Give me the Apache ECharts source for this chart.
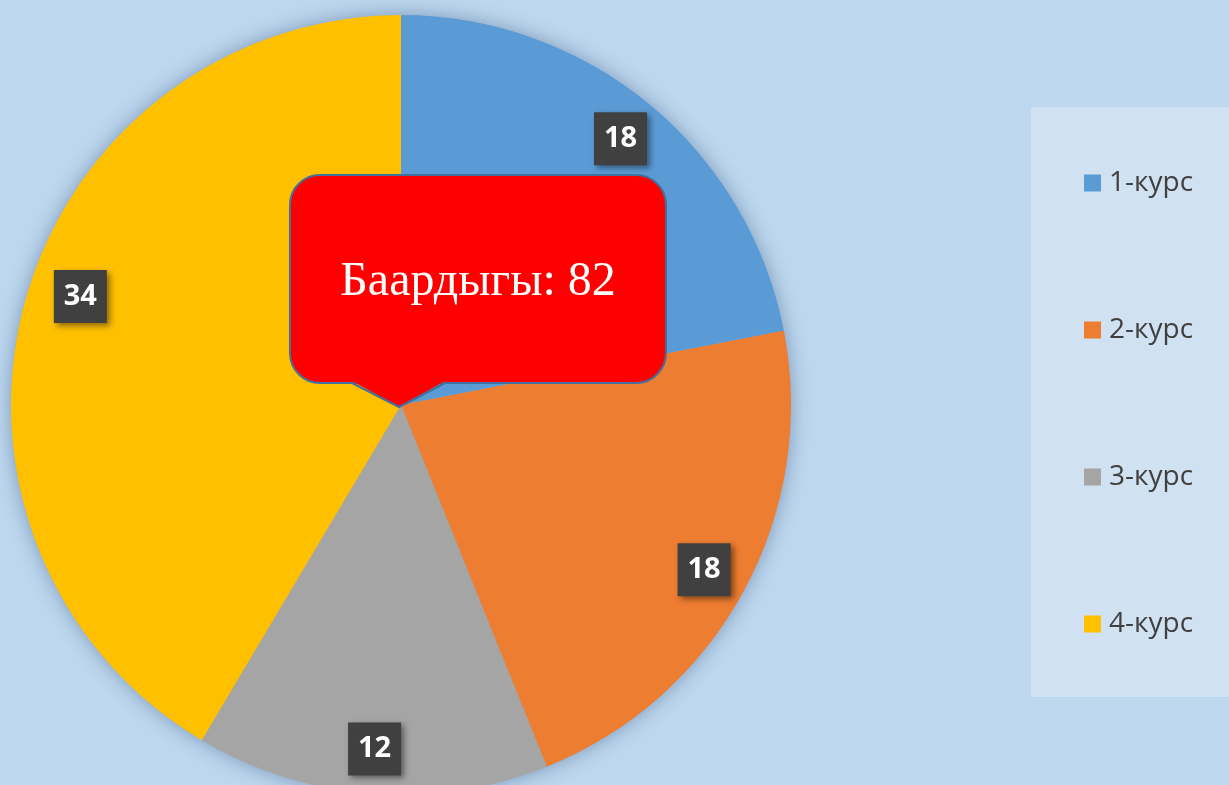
<!DOCTYPE html>
<html><head><meta charset="utf-8">
<script src="https://cdn.jsdelivr.net/npm/echarts@6/dist/echarts.min.js"></script>
<style>html,body{margin:0;padding:0;background:#BDD7EE;}#c{width:1229px;height:785px;}</style>
</head><body><div id="c"></div>
<script>
const categories = ['1-курс', '2-курс', '3-курс', '4-курс'];
const values = [18, 18, 12, 34];
const colors = ['#5B9BD5', '#ED7D31', '#A5A5A5', '#FFC000'];
const totalLabel = 'Баардыгы: ' + values.reduce((a, b) => a + b, 0);

const data = categories.map((c, i) => ({ name: c, value: values[i], itemStyle: { color: colors[i] } }));

const chart = echarts.init(document.getElementById('c'), null, { renderer: 'canvas' });
chart.setOption({
  backgroundColor: '#BDD7EE',
  animation: false,
  legend: {
    orient: 'vertical',
    left: 1031, top: 107,
    padding: [61, 60, 58, 53],
    backgroundColor: '#D0E1F1',
    itemGap: 117,
    itemWidth: 17, itemHeight: 17,
    icon: 'rect',
    data: categories,
    textStyle: { fontFamily: 'Open Sans', fontSize: 28, lineHeight: 30, color: '#404040', padding: [0, 0, 0, 3] }
  },
  series: [
    {
      type: 'pie',
      center: [401, 405],
      radius: 389,
      silent: true,
      legendHoverLink: false,
      data: [{ name: '_shadow', value: 1, itemStyle: { color: '#A5A5A5' } }],
      label: { show: false },
      labelLine: { show: false },
      itemStyle: { shadowBlur: 20, shadowColor: 'rgba(30,60,110,0.45)' },
      z: 1
    },
    {
      type: 'pie',
      center: [401, 405],
      radius: 390,
      startAngle: 90,
      clockwise: true,
      silent: true,
      data: data,
      label: { show: false },
      labelLine: { show: false },
      z: 2
    },
    {
      type: 'pie',
      center: [401, 405],
      radius: [300, 384],
      startAngle: 90,
      clockwise: true,
      silent: true,
      legendHoverLink: false,
      data: data.map(d => ({ name: d.name, value: d.value, itemStyle: { color: 'rgba(0,0,0,0)' } })),
      label: {
        show: true,
        position: 'inside',
        formatter: '{c}',
        fontFamily: 'Open Sans',
        fontWeight: 'bold',
        fontSize: 29,
        color: '#FFFFFF',
        width: 53,
        height: 53,
        lineHeight: 53,
        align: 'center',
        verticalAlign: 'middle',
        backgroundColor: '#404040',
        padding: 0,
        shadowBlur: 6,
        shadowOffsetX: 3,
        shadowOffsetY: 3,
        shadowColor: 'rgba(0,0,0,0.45)'
      },
      labelLayout: function (p) {
        return p.dataIndex === 3 ? { dx: 12, dy: -17 } : {};
      },
      labelLine: { show: false },
      z: 3
    }
  ],
  graphic: [
    {
      type: 'rect',
      shape: { x: 290, y: 175, width: 376, height: 208, r: 30 },
      style: { fill: '#FF0000', stroke: '#41719C', lineWidth: 2 },
      z: 100
    },
    {
      type: 'polygon',
      shape: { points: [[352, 381], [399, 407], [445, 381]] },
      style: { fill: '#FF0000' },
      z: 101
    },
    {
      type: 'polyline',
      shape: { points: [[352, 383], [399, 407], [445, 383]] },
      style: { fill: null, stroke: '#41719C', lineWidth: 2 },
      z: 102
    },
    {
      type: 'text',
      x: 478, y: 282,
      style: {
        text: totalLabel,
        fill: '#FFFFFF',
        font: '48px "Liberation Serif", "DejaVu Serif", serif',
        align: 'center',
        verticalAlign: 'middle'
      },
      z: 103
    }
  ]
});
</script></body></html>
